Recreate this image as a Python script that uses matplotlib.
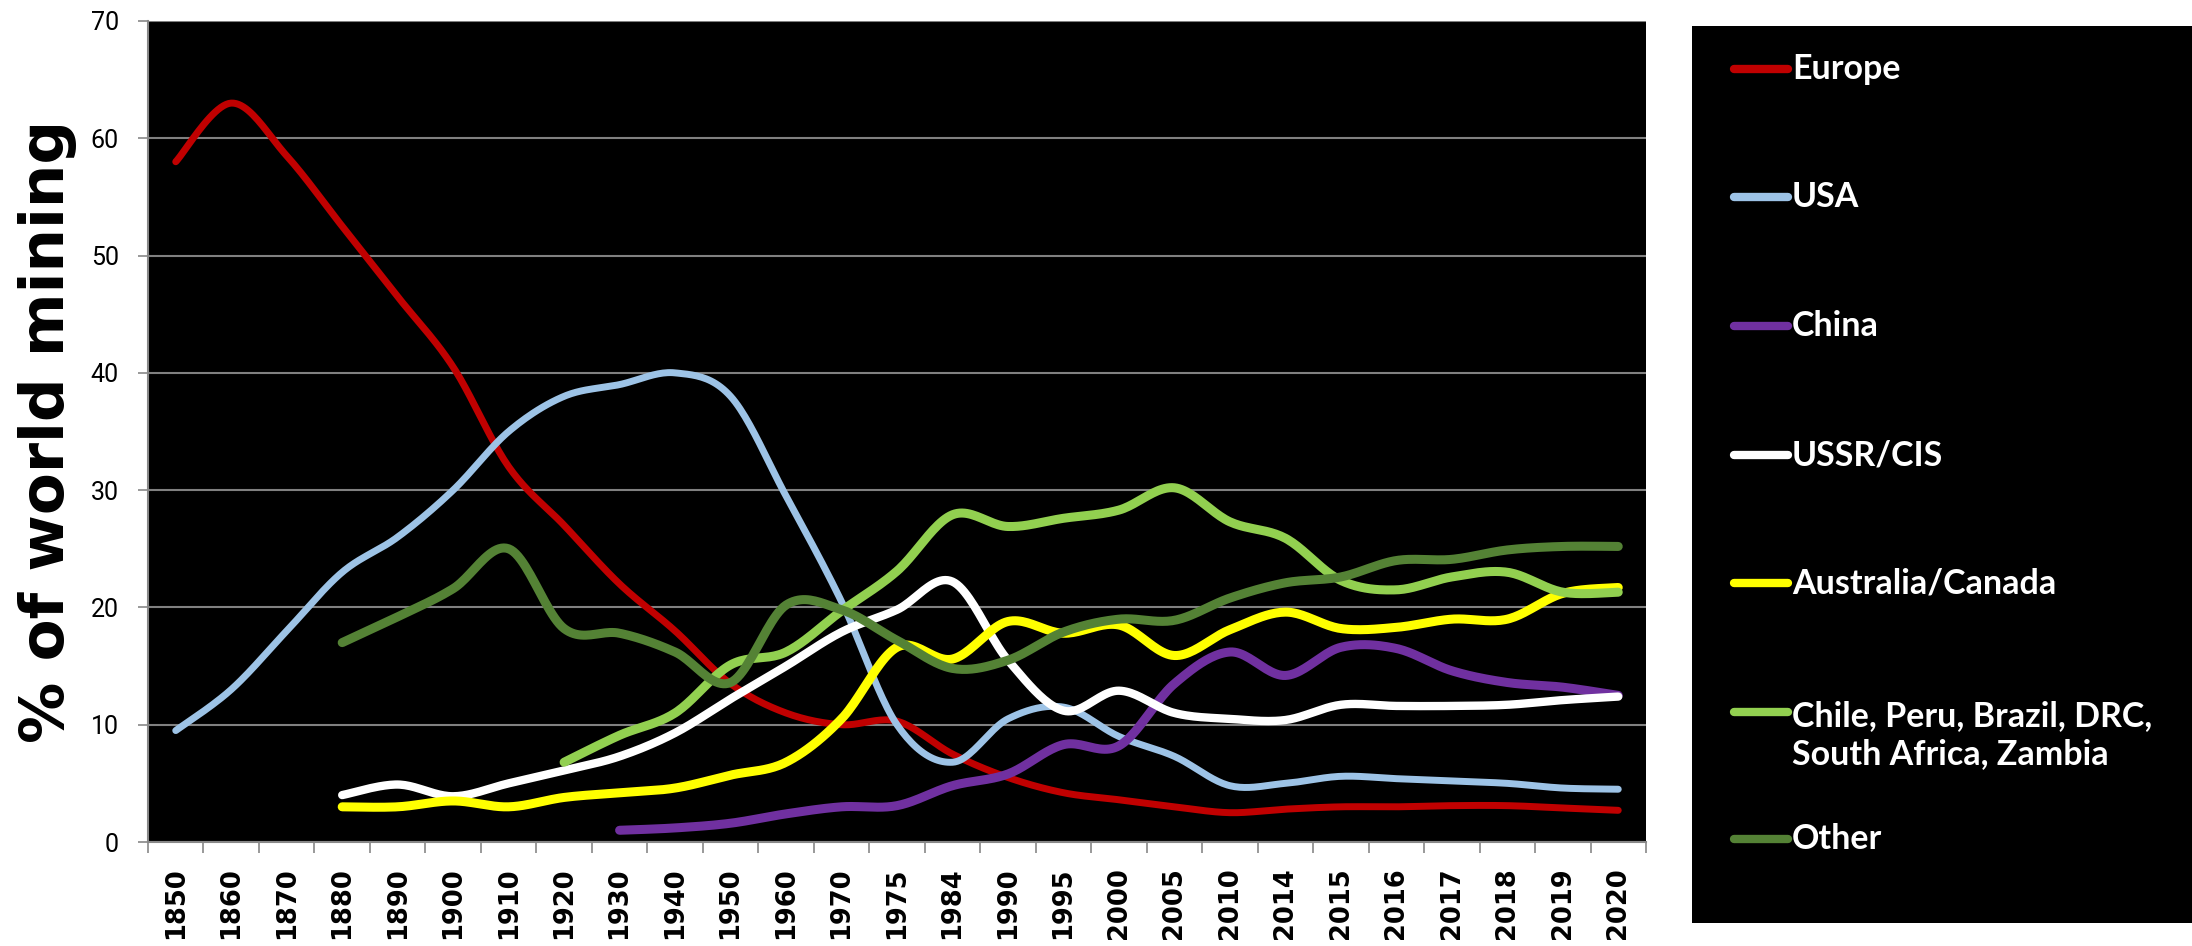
import numpy as np
import matplotlib
matplotlib.use('Agg')
import matplotlib.pyplot as plt

nan = np.nan

# categories (x axis)
years = ['1850', '1860', '1870', '1880', '1890', '1900', '1910', '1920', '1930',
         '1940', '1950', '1960', '1970', '1975', '1984', '1990', '1995', '2000',
         '2005', '2010', '2014', '2015', '2016', '2017', '2018', '2019', '2020']

# % of world mining
europe = [58, 63, 58.5, 52.5, 46.5, 40.5, 32, 27, 22, 18, 13.5, 11, 10, 10.3, 7.5,
          5.5, 4.2, 3.6, 3.0, 2.5, 2.8, 3.0, 3.0, 3.1, 3.1, 2.9, 2.7]
usa = [9.5, 13, 18, 23, 26, 30, 35, 38, 39, 40, 38, 29.5, 20.5, 10, 6.8, 10.5,
       11.5, 9.0, 7.3, 4.8, 5.0, 5.6, 5.4, 5.2, 5.0, 4.6, 4.5]
china = [nan] * 8 + [1.0, 1.2, 1.6, 2.4, 3.0, 3.1, 4.8, 5.8, 8.3, 8.2, 13.5, 16.2,
                     14.2, 16.6, 16.5, 14.6, 13.6, 13.2, 12.5]
ussr = [nan] * 3 + [4.0, 4.9, 3.9, 5.0, 6.1, 7.3, 9.3, 12.2, 15.0, 17.9, 19.8, 22.2,
                    15.5, 11.2, 12.9, 11.0, 10.5, 10.4, 11.7, 11.6, 11.6, 11.7, 12.1, 12.4]
aus_can = [nan] * 3 + [3.0, 3.0, 3.5, 3.0, 3.8, 4.2, 4.6, 5.7, 6.8, 10.5, 16.6, 15.6,
                       18.8, 17.8, 18.5, 15.9, 18.1, 19.6, 18.2, 18.3, 19.0, 19.0, 21.2, 21.7]
chile_etc = [nan] * 7 + [6.8, 9.1, 11.0, 15.1, 16.2, 19.7, 23.1, 27.9, 26.9, 27.6,
                         28.3, 30.2, 27.3, 25.9, 22.3, 21.5, 22.6, 23.0, 21.3, 21.3]
other = [nan] * 3 + [17.0, 19.2, 21.6, 25.0, 18.2, 17.8, 16.2, 13.6, 20.2, 19.8, 17.2,
                     14.8, 15.5, 17.9, 19.0, 18.9, 20.8, 22.1, 22.6, 24.0, 24.1, 24.9, 25.2, 25.2]

labels = ['Europe', 'USA', 'China', 'USSR/CIS', 'Australia/Canada',
          'Chile, Peru, Brazil, DRC,\nSouth Africa, Zambia', 'Other']
series = [europe, usa, china, ussr, aus_can, chile_etc, other]
colors = ['#C00000', '#9DC3E6', '#7030A0', '#FFFFFF', '#FFFF00', '#92D050', '#548235']
widths = [5.0, 5.0, 6.5, 6.0, 6.5, 6.5, 6.5]


def smooth(xs, ys, n=24):
    # excel-like smoothed line (catmull-rom through the points)
    p = np.array([(x, y) for x, y in zip(xs, ys) if not np.isnan(y)], dtype=float)
    if len(p) < 3:
        return p[:, 0], p[:, 1]
    ext = np.vstack([p[0], p, p[-1]])
    t = np.linspace(0, 1, n)[:, None]
    out = []
    for i in range(1, len(ext) - 2):
        p0, p1, p2, p3 = ext[i - 1], ext[i], ext[i + 1], ext[i + 2]
        b1 = p1 + (p2 - p0) / 6
        b2 = p2 - (p3 - p1) / 6
        seg = ((1 - t) ** 3) * p1 + 3 * ((1 - t) ** 2) * t * b1 + 3 * (1 - t) * t ** 2 * b2 + t ** 3 * p2
        out.append(seg if i == 1 else seg[1:])
    out = np.vstack(out)
    return out[:, 0], out[:, 1]


fig = plt.figure(figsize=(21.92, 9.46), dpi=100)
ax = fig.add_axes([148 / 2192, 104 / 946, 1498 / 2192, 821 / 946])
ax.set_facecolor('black')

x = np.arange(len(years))
for vals, col, lw in zip(series, colors, widths):
    sx, sy = smooth(x, np.array(vals, dtype=float))
    ax.plot(sx, sy, color=col, lw=lw, solid_capstyle='round', solid_joinstyle='round')

ax.set_xlim(-0.5, len(years) - 0.5)
ax.set_ylim(0, 70)
ax.set_yticks(range(0, 71, 10))
ax.yaxis.grid(True, color='#808080', lw=1.5)
ax.set_axisbelow(True)

ax.set_xticks(x)
ax.set_xticklabels(years, rotation=90, fontsize=18.5, fontweight='bold')
ax.set_xticks(np.arange(-0.5, len(years)), minor=True)
ax.tick_params(axis='x', which='major', length=0, pad=18)
ax.tick_params(axis='x', which='minor', length=8, width=1.2, color='#888888')
ax.tick_params(axis='y', length=7, width=1.2, color='#888888', labelsize=18, pad=14)
for lab in ax.get_yticklabels():
    lab.set_family(['Roboto', 'DejaVu Sans'])

for s in ['top', 'right']:
    ax.spines[s].set_visible(False)
for s in ['left', 'bottom']:
    ax.spines[s].set_color('#888888')
    ax.spines[s].set_linewidth(1.5)

ax.set_ylabel('% of world mining', fontsize=44, fontweight='bold', labelpad=10)

# legend panel on the right
lax = fig.add_axes([1692 / 2192, 23 / 946, 500 / 2192, 897 / 946])
lax.set_facecolor('black')
lax.set_xlim(1692, 2192)
lax.set_ylim(920, 23)
lax.set_xticks([])
lax.set_yticks([])
for s in lax.spines.values():
    s.set_visible(False)

ys_leg = [66, 194, 323, 452, 580, 709, 836]
for lab, col, yl in zip(labels, colors, ys_leg):
    lax.plot([1734, 1788], [yl, yl], color=col, lw=6, solid_capstyle='round')
    ty = yl + 23 if '\n' in lab else yl
    lax.text(1792, ty, lab, color='white', fontsize=24.5, fontweight='bold',
             family=['Lato', 'DejaVu Sans'], va='center', linespacing=1.25)

fig.savefig('out.png', dpi=100, facecolor='white')
